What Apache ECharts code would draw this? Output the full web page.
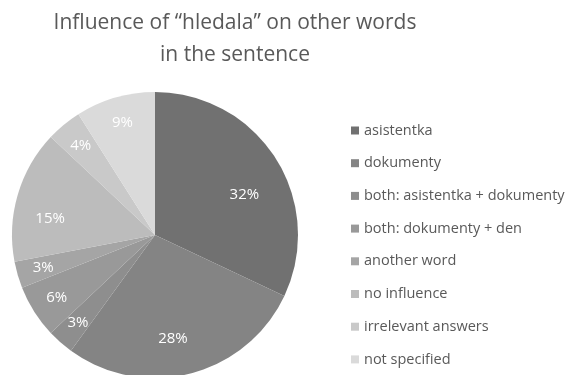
<!DOCTYPE html>
<html>
<head>
<meta charset="utf-8">
<style>
  html, body { margin: 0; padding: 0; background: #ffffff; }
  #chart { width: 568px; height: 375px; }
</style>
<script src="https://cdn.jsdelivr.net/npm/echarts@6/dist/echarts.min.js"></script>
</head>
<body>
<div id="chart"></div>
<script>
// Answer categories and their shares (percent)
const categories = [
  'asistentka',
  'dokumenty',
  'both: asistentka + dokumenty',
  'both: dokumenty + den',
  'another word',
  'no influence',
  'irrelevant answers',
  'not specified'
];
const shares = [32, 28, 3, 6, 3, 15, 4, 9];

// Grey shades, darkest first
const shades = ['#717171', '#848484', '#8e8e8e', '#999999', '#a5a5a5', '#bcbcbc', '#c9c9c9', '#dadada'];

// Small label nudges for the larger slices
const labelNudge = { 0: [-9, 22], 1: [-11, -9], 5: [7, 16] };

const titleText = 'Influence of \u201chledala\u201d on other words\nin the sentence';
const font = '"Open Sans", "Noto Sans", sans-serif';

const chart = echarts.init(document.getElementById('chart'), null, { renderer: 'canvas' });

const pieData = categories.map((name, i) => ({
  name,
  value: shares[i],
  itemStyle: { color: shades[i] }
}));

const labelData = categories.map((name, i) => ({
  name,
  value: shares[i],
  label: labelNudge[i] ? { offset: labelNudge[i] } : {}
}));

chart.setOption({
  animation: false,
  backgroundColor: '#ffffff',
  title: {
    text: titleText,
    left: 230,
    textAlign: 'center',
    top: 2,
    textStyle: {
      fontFamily: font,
      fontSize: 21,
      fontWeight: 'normal',
      color: '#595959',
      lineHeight: 32
    }
  },
  legend: {
    orient: 'vertical',
    left: 351,
    top: 123,
    height: 250,
    padding: 0,
    icon: 'rect',
    itemWidth: 8,
    itemHeight: 8,
    itemGap: 17.7,
    selectedMode: false,
    data: categories,
    textStyle: {
      fontFamily: font,
      fontSize: 14.5,
      color: '#595959'
    }
  },
  series: [
    {
      type: 'pie',
      center: [155, 235],
      radius: [0, 143],
      startAngle: 90,
      clockwise: true,
      label: { show: false },
      labelLine: { show: false },
      emphasis: { disabled: true },
      itemStyle: { borderWidth: 0 },
      data: pieData
    },
    {
      // transparent ring carrying the percentage labels
      type: 'pie',
      center: [155, 235],
      radius: [84, 143],
      startAngle: 90,
      clockwise: true,
      silent: true,
      legendHoverLink: false,
      emphasis: { disabled: true },
      itemStyle: { color: 'rgba(0,0,0,0)' },
      label: {
        show: true,
        position: 'inside',
        formatter: '{c}%',
        fontFamily: font,
        fontSize: 15,
        color: '#ffffff'
      },
      labelLine: { show: false },
      data: labelData
    }
  ]
});
</script>
</body>
</html>
